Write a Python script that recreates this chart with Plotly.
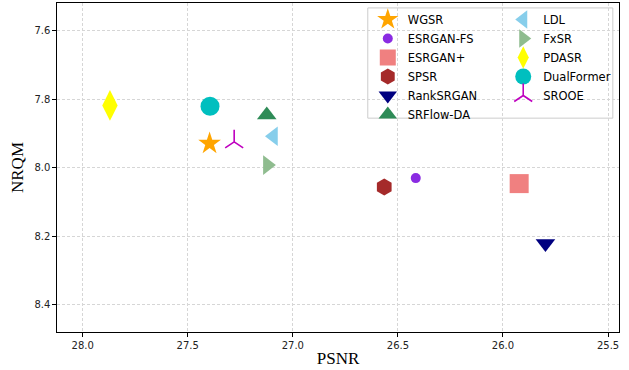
import plotly.graph_objects as go

methods = ["WGSR", "ESRGAN-FS", "ESRGAN+", "SPSR", "RankSRGAN", "SRFlow-DA",
           "LDL", "FxSR", "PDASR", "DualFormer", "SROOE"]
psnr = [27.396, 26.415, 25.923, 26.565, 25.798, 27.124, 27.092, 27.121, 27.870, 27.394, 27.279]
nrqm = [7.929, 8.030, 8.046, 8.056, 8.221, 7.846, 7.908, 7.992, 7.818, 7.820, 7.924]
colors = ["#FFA500", "#8A2BE2", "#F08080", "#A52A2A", "#000080", "#2E8B57",
          "#87CEEB", "#8FBC8F", "#FFFF00", "#00BFBF", "#BF00BF"]
symbols = ["star", "circle", "square", "hexagon", "triangle-down", "triangle-up",
           "triangle-left", "triangle-right", "diamond-tall", "circle", "y-up"]
sizes = [17, 10, 19, 17, 17, 17, 17, 17, 22, 19, 15]
column = [1, 1, 1, 1, 1, 1, 2, 2, 2, 2, 2]

x_ticks = [28.0, 27.5, 27.0, 26.5, 26.0, 25.5]
y_ticks = [7.6, 7.8, 8.0, 8.2, 8.4]

fig = go.Figure()
for m, xv, yv, c, s, sz, col in zip(methods, psnr, nrqm, colors, symbols, sizes, column):
    marker = dict(color=c, symbol=s, size=sz, line=dict(width=0))
    if s.startswith("y-"):
        marker["line"] = dict(width=1.6, color=c)
    fig.add_trace(go.Scatter(
        x=[xv], y=[yv], mode="markers", name=m, marker=marker,
        legend="legend" if col == 1 else "legend2",
    ))

axis_common = dict(
    showline=True, linecolor="black", linewidth=1.2, mirror=True,
    ticks="outside", ticklen=3.5, tickwidth=1, tickcolor="black",
    showgrid=True, gridcolor="#d6d6d6", griddash="3px,2px", gridwidth=1,
    zeroline=False,
    tickfont=dict(family="DejaVu Sans", size=10, color="#222"),
)

legend_font = dict(family="DejaVu Sans", size=11.5, color="black")

fig.update_layout(
    width=629, height=370,
    margin=dict(l=57, r=10, t=3, b=38),
    paper_bgcolor="white", plot_bgcolor="white",
    xaxis=dict(range=[28.122, 25.448], tickvals=x_ticks,
               ticktext=[f"{v:.1f}" for v in x_ticks],
               title=dict(text="PSNR", font=dict(family="Liberation Serif", size=17, color="black"), standoff=2),
               automargin=False, **axis_common),
    yaxis=dict(range=[8.479, 7.519], tickvals=y_ticks,
               ticktext=[f"{v:.1f}" for v in y_ticks],
               title=dict(text="NRQM", font=dict(family="Liberation Serif", size=17, color="black"), standoff=6),
               automargin=False, **axis_common),
    legend=dict(x=0.553, y=0.994, xanchor="left", yanchor="top",
                bgcolor="rgba(0,0,0,0)", font=legend_font,
                itemsizing="trace", tracegroupgap=0),
    legend2=dict(x=0.794, y=0.994, xanchor="left", yanchor="top",
                 bgcolor="rgba(0,0,0,0)", font=legend_font,
                 itemsizing="trace", tracegroupgap=0),
    shapes=[dict(type="rect", xref="paper", yref="paper", x0=0.553, x1=0.989, y0=0.650, y1=0.985,
                 line=dict(color="#cccccc", width=1), fillcolor="rgba(255,255,255,0.8)", layer="below")],
    showlegend=True,
)

fig.write_html("out.html", config={"displayModeBar": False},
               post_script="document.body.style.margin='0';document.body.style.padding='0';")
